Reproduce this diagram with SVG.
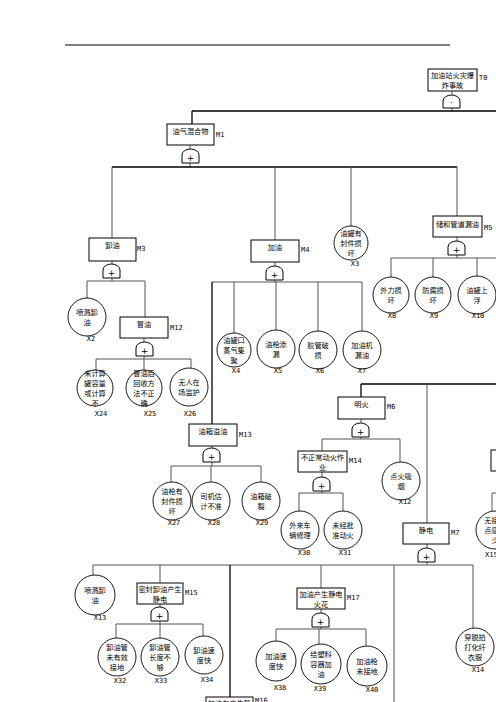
<svg xmlns="http://www.w3.org/2000/svg" xmlns:xlink="http://www.w3.org/1999/xlink" width="496" height="702" viewBox="0 0 496 702">
<style>
.bx{fill:#fff;stroke:#000;stroke-width:1}
.ev{fill:#fff;stroke:#000;stroke-width:0.9}
.gate{fill:#fff;stroke:#000;stroke-width:1}
.t{font-family:"Noto Sans CJK SC","Noto Sans",sans-serif;font-size:7.2px;fill:#000;text-anchor:middle}
.c{font-family:"Noto Sans CJK SC","Noto Sans",sans-serif;font-size:7.2px;fill:#000;text-anchor:middle}
.lb{font-family:"DejaVu Sans Mono","Liberation Mono",monospace;font-size:7px;fill:#000}
.lc{font-family:"DejaVu Sans Mono","Liberation Mono",monospace;font-size:7px;fill:#000;text-anchor:middle}
.gp{font-family:"DejaVu Sans","Liberation Sans",sans-serif;font-size:9px;fill:#000;text-anchor:middle}
.ln{stroke:#555;stroke-width:1;fill:none}
.lk{stroke:#000;stroke-width:1.3;fill:none}
</style>
<defs>
<g id="or"><path class="gate" d="M0,14 V6 A8.5,6 0 0 1 17,6 V14 Z"/><text class="gp" x="8.5" y="12">+</text></g>
<g id="and"><path class="gate" d="M0,13 V6 A8.5,6 0 0 1 17,6 V13 Z"/><text class="gp" x="8.5" y="11">·</text></g>
</defs>
<line x1="65" y1="45" x2="450" y2="45" stroke="#000" stroke-width="1"/>
<g id="connectors">
<path class="ln" d="M452,91V95M452,108V111"/>
<path class="lk" d="M192,111H496M192,111V124"/>
<path class="ln" d="M190,145V149M190,163V167"/>
<path class="lk" d="M112,167H457"/>
<path class="ln" d="M112,167V238M275,167V240M351,167V226M457,167V216"/>
<path class="ln" d="M112,261V264M112,278V281M87,281H145M87,281V298M145,281V317"/>
<path class="ln" d="M144,338V342M144,356V359M96,359H191M96,359V370M144,359V370M191,359V368"/>
<path class="ln" d="M275,262V266M275,280V282M212,282H362M234,282V333M276,282V330M318,282V331M362,282V331"/>
<path class="lk" d="M212,282V424"/>
<path class="ln" d="M457,237V241M457,255V258M391,258H496M391,258V277M433,258V277M477,258V276"/>
<path class="lk" d="M361,384H496M361,384V397"/>
<path class="ln" d="M427,384V523"/>
<path class="ln" d="M361,419V423M361,437V439M322,439H400M322,439V451M400,439V462"/>
<path class="ln" d="M322,472V477M322,491V493M299,493H343M299,493V511M343,493V511"/>
<path class="ln" d="M212,446V448M212,462V466M171,466H261M171,466V482M211,466V482M261,466V482"/>
<path class="ln" d="M492,493H496M492,493V511"/>
<path class="ln" d="M427,544V548M427,562V565M93,565H473M93,565V575M160,565V583M321,565V588M394,565V702M473,565V628"/>
<path class="lk" d="M230,565V697"/>
<path class="ln" d="M160,604V607M160,621V624M116,624H203M116,624V638M160,624V638M203,624V636"/>
<path class="ln" d="M321,609V613M321,627V629M276,629H366M276,629V641M319,629V644M366,629V646"/>
</g>
<g id="gates">
<use xlink:href="#and" x="443" y="95"/>
<use xlink:href="#or" x="182" y="149"/>
<use xlink:href="#or" x="103" y="264"/>
<use xlink:href="#or" x="136" y="342"/>
<use xlink:href="#or" x="266" y="266"/>
<use xlink:href="#or" x="448" y="241"/>
<use xlink:href="#or" x="352" y="423"/>
<use xlink:href="#or" x="203" y="448"/>
<use xlink:href="#or" x="313" y="477"/>
<use xlink:href="#or" x="418" y="548"/>
<use xlink:href="#or" x="151" y="607"/>
<use xlink:href="#or" x="312" y="613"/>
</g>
<g id="T0"><rect class="bx" x="428" y="69" width="49" height="22"/><text class="t" x="452.5" y="77.5">加油站火灾爆<tspan x="452.5" dy="10">炸事故</tspan></text><text class="lb" x="479" y="80">T0</text></g>
<g id="M1"><rect class="bx" x="167" y="124" width="47" height="21"/><text class="t" x="190.5" y="134">油气混合物</text><text class="lb" x="216" y="137">M1</text></g>
<g id="M3"><rect class="bx" x="89" y="238" width="47" height="23"/><text class="t" x="112.5" y="248">卸油</text><text class="lb" x="137" y="251">M3</text></g>
<g id="M4"><rect class="bx" x="251" y="240" width="48" height="22"/><text class="t" x="275" y="250">加油</text><text class="lb" x="301" y="252">M4</text></g>
<g id="M5"><rect class="bx" x="433" y="216" width="49" height="21"/><text class="t" x="457.5" y="227">储和管道漏油</text><text class="lb" x="484" y="230">M5</text></g>
<g id="M12"><rect class="bx" x="120" y="317" width="48" height="21"/><text class="t" x="144" y="327">冒油</text><text class="lb" x="170" y="330">M12</text></g>
<g id="M6"><rect class="bx" x="338" y="397" width="47" height="22"/><text class="t" x="361.5" y="407">明火</text><text class="lb" x="387" y="409">M6</text></g>
<g id="M13"><rect class="bx" x="189" y="424" width="48" height="22"/><text class="t" x="213" y="434">油箱溢油</text><text class="lb" x="239" y="437">M13</text></g>
<g id="M14"><rect class="bx" x="298" y="451" width="49" height="21"/><text class="t" x="322.5" y="459.5">不正常动火作<tspan x="322.5" dy="10">业</tspan></text><text class="lb" x="349" y="463">M14</text></g>
<g id="M7"><rect class="bx" x="403" y="523" width="46" height="21"/><text class="t" x="426" y="533">静电</text><text class="lb" x="451" y="535">M7</text></g>
<g id="M15"><rect class="bx" x="137" y="583" width="46" height="21"/><text class="t" x="160" y="591.5">密封卸油产生<tspan x="160" dy="10">静电</tspan></text><text class="lb" x="185" y="595">M15</text></g>
<g id="M17"><rect class="bx" x="297" y="588" width="48" height="21"/><text class="t" x="321" y="596.5">加油产生静电<tspan x="321" dy="10">火花</tspan></text><text class="lb" x="347" y="600">M17</text></g>
<g id="M16"><rect class="bx" x="206" y="697" width="47" height="21"/><text class="t" x="229.5" y="705.5">加油车产生静<tspan x="229.5" dy="10">电</tspan></text><text class="lb" x="255" y="703">M16</text></g>
<g id="M8"><rect class="bx" x="491" y="450" width="49" height="21"/><text class="t" x="515.5" y="460">撞击火花</text></g>
<g id="X3"><circle class="ev" cx="351" cy="243" r="17"/><text class="c" x="351" y="235.5">油罐有<tspan x="351" dy="10">封件损</tspan><tspan x="351" dy="10">坏</tspan></text><text class="lc" x="355" y="266">X3</text></g>
<g id="X2"><circle class="ev" cx="87" cy="317" r="19"/><text class="c" x="87" y="314.5">喷溅卸<tspan x="87" dy="10">油</tspan></text><text class="lc" x="91" y="341">X2</text></g>
<g id="X24"><circle class="ev" cx="95" cy="388" r="18"/><text class="c" x="95" y="375.5">未计算<tspan x="95" dy="10">罐容量</tspan><tspan x="95" dy="10">或计算</tspan><tspan x="95" dy="10">不</tspan></text><text class="lc" x="101" y="416">X24</text></g>
<g id="X25"><circle class="ev" cx="144" cy="388" r="18"/><text class="c" x="144" y="375.5">冒油后<tspan x="144" dy="10">回收方</tspan><tspan x="144" dy="10">法不正</tspan><tspan x="144" dy="10">确</tspan></text><text class="lc" x="150" y="416">X25</text></g>
<g id="X26"><circle class="ev" cx="189" cy="387" r="19"/><text class="c" x="189" y="384.5">无人在<tspan x="189" dy="10">场监护</tspan></text><text class="lc" x="190" y="416">X26</text></g>
<g id="X4"><circle class="ev" cx="234" cy="350" r="17"/><text class="c" x="234" y="342.5">油罐口<tspan x="234" dy="10">蒸气集</tspan><tspan x="234" dy="10">聚</tspan></text><text class="lc" x="236" y="373">X4</text></g>
<g id="X5"><circle class="ev" cx="276" cy="349" r="19"/><text class="c" x="276" y="346.5">油枪渗<tspan x="276" dy="10">漏</tspan></text><text class="lc" x="278" y="373">X5</text></g>
<g id="X6"><circle class="ev" cx="318" cy="350" r="19"/><text class="c" x="318" y="347.5">胶管破<tspan x="318" dy="10">损</tspan></text><text class="lc" x="320" y="373">X6</text></g>
<g id="X7"><circle class="ev" cx="362" cy="350" r="19"/><text class="c" x="362" y="347.5">加油机<tspan x="362" dy="10">漏油</tspan></text><text class="lc" x="362" y="373">X7</text></g>
<g id="X8"><circle class="ev" cx="391" cy="295" r="18"/><text class="c" x="391" y="292.5">外力损<tspan x="391" dy="10">坏</tspan></text><text class="lc" x="392" y="318">X8</text></g>
<g id="X9"><circle class="ev" cx="433" cy="295" r="18"/><text class="c" x="433" y="292.5">防腐损<tspan x="433" dy="10">坏</tspan></text><text class="lc" x="434" y="318">X9</text></g>
<g id="X10"><circle class="ev" cx="477" cy="295" r="19"/><text class="c" x="477" y="292.5">油罐上<tspan x="477" dy="10">浮</tspan></text><text class="lc" x="478" y="318">X10</text></g>
<g id="X27"><circle class="ev" cx="172" cy="501" r="19"/><text class="c" x="172" y="493.5">油枪有<tspan x="172" dy="10">封件损</tspan><tspan x="172" dy="10">坏</tspan></text><text class="lc" x="174" y="525">X27</text></g>
<g id="X28"><circle class="ev" cx="211" cy="501" r="19"/><text class="c" x="211" y="498.5">司机估<tspan x="211" dy="10">计不准</tspan></text><text class="lc" x="214" y="525">X28</text></g>
<g id="X29"><circle class="ev" cx="261" cy="501" r="19"/><text class="c" x="261" y="498.5">油箱破<tspan x="261" dy="10">裂</tspan></text><text class="lc" x="262" y="525">X29</text></g>
<g id="X30"><circle class="ev" cx="300" cy="530" r="19"/><text class="c" x="300" y="527.5">外来车<tspan x="300" dy="10">辆修理</tspan></text><text class="lc" x="304" y="555">X30</text></g>
<g id="X31"><circle class="ev" cx="343" cy="530" r="19"/><text class="c" x="343" y="527.5">未经批<tspan x="343" dy="10">准动火</tspan></text><text class="lc" x="345" y="555">X31</text></g>
<g id="X12"><circle class="ev" cx="401" cy="481" r="19"/><text class="c" x="401" y="478.5">点火吸<tspan x="401" dy="10">烟</tspan></text><text class="lc" x="405" y="504">X12</text></g>
<g id="X15"><circle class="ev" cx="495" cy="530" r="19"/><text class="c" x="495" y="522.5">无接地<tspan x="495" dy="10">点感应</tspan><tspan x="495" dy="10">少</tspan></text><text class="lb" x="485" y="557">X15</text></g>
<g id="X13"><circle class="ev" cx="95" cy="595" r="20"/><text class="c" x="95" y="592.5">喷溅卸<tspan x="95" dy="10">油</tspan></text><text class="lc" x="100" y="620">X13</text></g>
<g id="X32"><circle class="ev" cx="117" cy="657" r="19"/><text class="c" x="117" y="649.5">卸油管<tspan x="117" dy="10">未有效</tspan><tspan x="117" dy="10">接地</tspan></text><text class="lc" x="120" y="683">X32</text></g>
<g id="X33"><circle class="ev" cx="160" cy="657" r="19"/><text class="c" x="160" y="649.5">卸油管<tspan x="160" dy="10">长度不</tspan><tspan x="160" dy="10">够</tspan></text><text class="lc" x="161" y="683">X33</text></g>
<g id="X34"><circle class="ev" cx="204" cy="655" r="19"/><text class="c" x="204" y="652.5">卸油速<tspan x="204" dy="10">度快</tspan></text><text class="lc" x="207" y="682">X34</text></g>
<g id="X38"><circle class="ev" cx="276" cy="661" r="20"/><text class="c" x="276" y="658.5">加油速<tspan x="276" dy="10">度快</tspan></text><text class="lc" x="280" y="690">X38</text></g>
<g id="X39"><circle class="ev" cx="321" cy="664" r="20"/><text class="c" x="321" y="656.5">给塑料<tspan x="321" dy="10">容器加</tspan><tspan x="321" dy="10">油</tspan></text><text class="lc" x="320" y="691">X39</text></g>
<g id="X40"><circle class="ev" cx="367" cy="666" r="20"/><text class="c" x="367" y="663.5">加油枪<tspan x="367" dy="10">未接地</tspan></text><text class="lc" x="372" y="692">X40</text></g>
<g id="X14"><circle class="ev" cx="475" cy="647" r="19"/><text class="c" x="475" y="639.5">穿脱拍<tspan x="475" dy="10">打化纤</tspan><tspan x="475" dy="10">衣服</tspan></text><text class="lc" x="478" y="672">X14</text></g>
</svg>
